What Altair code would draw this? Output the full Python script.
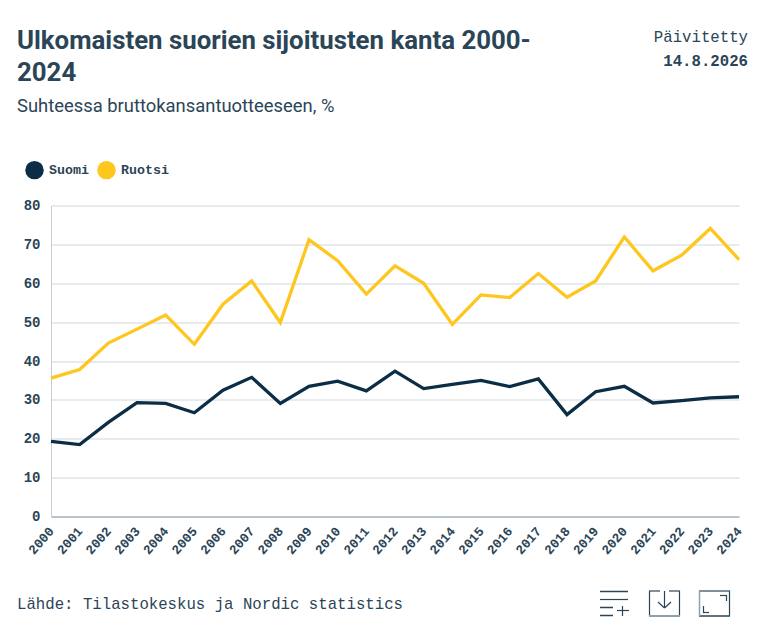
import altair as alt
import pandas as pd

years = [str(y) for y in range(2000, 2025)]
suomi = [19.3, 18.5, 24.2, 29.3, 29.1, 26.7, 32.5, 35.8, 29.1, 33.5, 34.8, 32.3, 37.4,
         32.9, 34.0, 35.0, 33.4, 35.4, 26.2, 32.1, 33.5, 29.2, 29.8, 30.5, 30.8]
ruotsi = [35.6, 37.8, 44.6, 48.2, 51.8, 44.3, 54.6, 60.6, 49.9, 71.2, 65.8, 57.2, 64.5,
          60.0, 49.4, 57.0, 56.3, 62.5, 56.4, 60.6, 71.9, 63.2, 67.2, 74.1, 66.1]
y_ticks = [0, 10, 20, 30, 40, 50, 60, 70, 80]
series_names = ["Suomi", "Ruotsi"]
series_colors = ["#0b2d45", "#ffc61e"]

INK = "#2b4557"
MONO = "Liberation Mono"
SANS = "Roboto"

df = pd.DataFrame({
    "Vuosi": years * 2,
    "Sarja": ["Suomi"] * len(years) + ["Ruotsi"] * len(years),
    "Arvo": suomi + ruotsi,
})

x = alt.X("Vuosi:N", sort=years, scale=alt.Scale(type="point", padding=0), title=None,
          axis=alt.Axis(labelAngle=311, labelAlign="right", labelBaseline="middle",
                        labelFont=MONO, labelFontSize=13, labelFontWeight="bold",
                        labelColor=INK, labelPadding=12, labelOverlap=False, ticks=False,
                        grid=False, domainColor="#b9c4cc", domainWidth=2))
y = alt.Y("Arvo:Q", scale=alt.Scale(domain=[0, 80], nice=False), title=None,
          axis=alt.Axis(values=y_ticks, labelFont=MONO, labelFontSize=14, labelFontWeight="bold",
                        labelColor=INK, labelPadding=11, ticks=False, gridColor="#e1e5e8",
                        gridWidth=1.5, domainColor="#c6ced4", domainWidth=1))
color = alt.Color("Sarja:N", scale=alt.Scale(domain=series_names, range=series_colors), title=None,
                  legend=alt.Legend(orient="none", legendX=-26, legendY=-45, direction="horizontal",
                                    symbolType="circle", symbolSize=340, symbolOpacity=1,
                                    symbolStrokeWidth=0,
                                    labelFont=MONO, labelFontSize=13.3, labelFontWeight="bold",
                                    labelColor=INK, columnPadding=8, labelOffset=5))

lines = alt.Chart(df).mark_line(strokeWidth=3.3, interpolate="linear").encode(x=x, y=y, color=color)
legend_dots = alt.Chart(df).mark_circle(opacity=0, size=1).encode(x=x, y=y, color=color)


def text_mark(label, px, py, size, font, weight="normal", align="left", ink=INK):
    return alt.Chart(pd.DataFrame({"t": [label]})).mark_text(
        font=font, fontSize=size, fontWeight=weight, align=align, baseline="alphabetic", color=ink
    ).encode(text="t:N", x=alt.value(px), y=alt.value(py))


def seg(x1, y1, x2, y2, w=1.5, c=INK):
    return alt.Chart(pd.DataFrame({"a": [0]})).mark_rule(color=c, strokeWidth=w).encode(
        x=alt.value(x1), x2=alt.value(x2), y=alt.value(y1), y2=alt.value(y2))


OX, OY = 51, 205.5  # page position of the plot's origin


def P(px, py):
    return px - OX, py - OY


def page_seg(x1, y1, x2, y2, w=1.5, c=INK):
    a, b = P(x1, y1)
    c2, d = P(x2, y2)
    return seg(a, b, c2, d, w, c)


def page_text(label, px, py, size, font, weight="normal", align="left"):
    a, b = P(px, py)
    return text_mark(label, a, b, size, font, weight, align)


texts = [
    page_text("Ulkomaisten suorien sijoitusten kanta 2000-", 17, 49, 25.8, SANS, "bold"),
    page_text("2024", 17, 81, 25.8, SANS, "bold"),
    page_text("Suhteessa bruttokansantuotteeseen, %", 17, 112, 18.4, SANS),
    page_text("Päivitetty", 748, 42, 15.7, MONO, "normal", "right"),
    page_text("14.8.2026", 748, 66, 15.7, MONO, "bold", "right"),
    page_text("Lähde: Tilastokeskus ja Nordic statistics", 17, 609, 15.7, MONO),
]
GREY = "#8fa0ac"
icons = [
    # add-to-list icon
    page_seg(600, 591.5, 628, 591.5), page_seg(600, 599.5, 628, 599.5, 1.2),
    page_seg(600, 607.5, 613, 607.5), page_seg(600, 615.5, 613, 615.5),
    page_seg(617, 610.5, 629, 610.5, 1.2), page_seg(622.5, 606, 622.5, 616, 1.2),
    # download icon
    page_seg(649.5, 591, 649.5, 616, 1.2), page_seg(679.5, 591, 679.5, 616, 1.2),
    page_seg(649, 616, 680, 616, 2, GREY),
    page_seg(649, 591, 660, 591, 1.2), page_seg(669, 591, 680, 591, 1.2),
    page_seg(664.5, 591, 664.5, 608, 1.2),
    page_seg(658, 602, 664.5, 608, 1.2), page_seg(671, 602, 664.5, 608, 1.2),
    # fullscreen icon
    page_seg(699, 591, 730, 591, 1.2), page_seg(699, 616, 730, 616, 1.5),
    page_seg(699.5, 591, 699.5, 616, 1.5, GREY), page_seg(729.5, 591, 729.5, 616, 1.2),
    page_seg(720, 595.5, 727, 595.5, 1.2), page_seg(726.5, 595, 726.5, 601, 1.2),
    page_seg(703, 612.5, 709, 612.5, 1.2), page_seg(703.5, 606, 703.5, 613, 1.2),
]

chart = alt.layer(legend_dots, lines, *texts, *icons).properties(
    width=688, height=311,
    padding={"left": 43, "top": 197.5, "right": 18, "bottom": 110},
    autosize=alt.AutoSizeParams(type="none"),
    background="white",
).configure_view(stroke=None)

chart.save("out.html", embed_options={"renderer": "svg", "actions": False})
